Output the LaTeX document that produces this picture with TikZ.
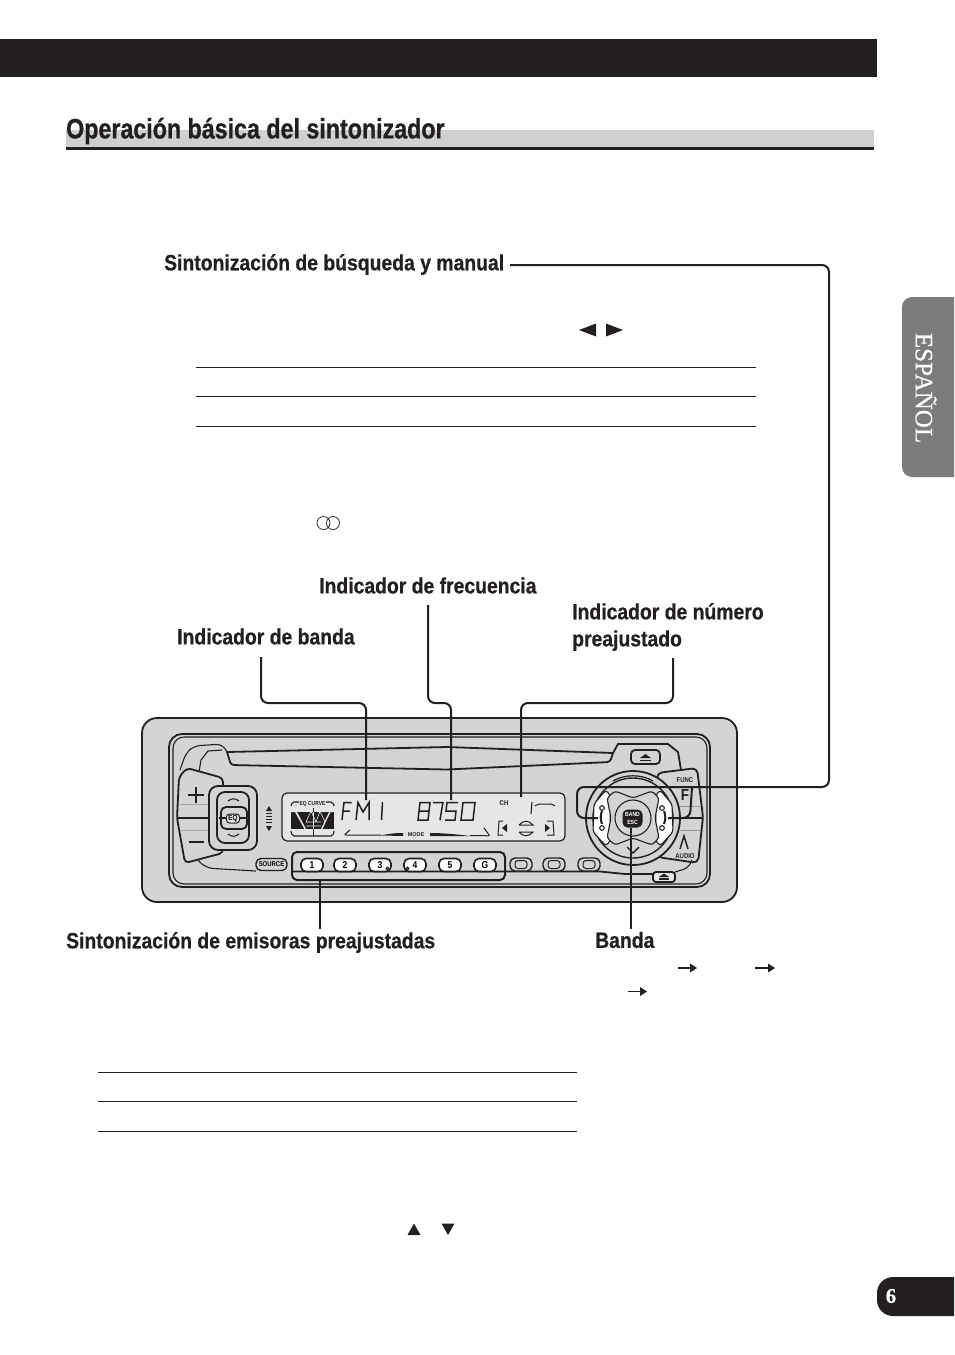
\documentclass[tikz,border=0pt]{standalone}
\usepackage{fontspec}
\setmainfont{Liberation Sans}
\newfontfamily\cond[FakeStretch=0.88,FakeBold=0.6]{Liberation Sans}
\newfontfamily\condt[FakeStretch=0.83,FakeBold=0.8]{Liberation Sans}
\newfontfamily\condn[FakeStretch=0.85]{Liberation Sans}
\newfontfamily\serifb[FakeBold=0.5]{Liberation Serif}
\definecolor{barblack}{HTML}{231F20}
\definecolor{band}{HTML}{D0D0D0}
\definecolor{tabgrey}{HTML}{7D7B7C}
\definecolor{panel}{HTML}{D4D4D4}
\definecolor{lcd}{HTML}{E6E6E6}
\tikzset{
  lbl/.style={inner sep=0pt,anchor=west,font=\cond\bfseries\fontsize{22}{27}\selectfont,text=barblack,align=left},
  rule/.style={draw=barblack,line width=0.9pt},
  conn/.style={draw=barblack,line width=2pt,rounded corners=7pt},
  dev/.style={draw=barblack,line width=1.1pt},
  devthick/.style={draw=barblack,line width=1.8pt},
  seg/.style={draw=barblack,line width=1.5pt},
  key/.style={draw=barblack,line width=1.6pt,fill=white,rounded corners=5pt,minimum width=22pt,minimum height=13pt,inner sep=0pt,font=\condn\bfseries\fontsize{10}{10}\selectfont},
  blank/.style={draw=barblack,line width=1.4pt,fill=panel,rounded corners=5pt,minimum width=22pt,minimum height=13pt,inner sep=0pt},
  tiny/.style={inner sep=0pt,font=\condn\bfseries\fontsize{7}{8}\selectfont,text=barblack,align=center}
}
\begin{document}
\begin{tikzpicture}[x=1pt,y=-1pt]
\useasboundingbox (0,0) rectangle (954,1355);
\fill[white] (0,0) rectangle (954,1355);
% header
\fill[barblack] (0,39) rectangle (877,77);
\fill[band] (66,130) rectangle (874,147);
\fill[barblack] (66,147) rectangle (874,149.5);
\node[lbl,font=\condt\bfseries\fontsize{28}{30}\selectfont] (title) at (66,131) {Operación básica del sintonizador};
% side tab
\begin{scope}
\clip (890,280) rectangle (954,490);
\fill[tabgrey,rounded corners=10pt] (975,297) -- (902,297) -- (902,477) -- (975,477) -- cycle;
\end{scope}
\node[inner sep=0pt,rotate=-90,text=white,font=\serifb\fontsize{25}{25}\selectfont] (tab) at (926,388) {ESPAÑOL};
% page number
\begin{scope}
\clip (870,1270) rectangle (954,1320);
\fill[barblack,rounded corners=16pt] (985,1277) -- (877,1277) -- (877,1316) -- (985,1316) -- cycle;
\end{scope}
\node[inner sep=0pt,text=white,font=\serifb\bfseries\fontsize{21}{21}\selectfont] (pageno) at (891,1296) {6};
% rules
\foreach \y in {367,396.5,426.5}{\draw[rule] (196,\y) -- (756,\y);}
\foreach \y in {1072.5,1101.5,1131.5}{\draw[rule] (98,\y) -- (577,\y);}
% symbols
\fill[barblack] (579,330) -- (596,323.5) -- (596,336.5) -- cycle;
\fill[barblack] (623,330) -- (606,323.5) -- (606,336.5) -- cycle;
\draw[barblack,line width=0.7pt] (323.5,523) circle (6.5) (333,523) circle (6.5);
\fill[barblack] (414,1223.5) -- (407.5,1235) -- (420.5,1235) -- cycle;
\fill[barblack] (448,1235) -- (441.5,1223.5) -- (454.5,1223.5) -- cycle;
\foreach \a/\b in {678/697,755/775}{
  \draw[barblack,line width=1.6pt] (\a,968) -- (\b-6,968);
  \fill[barblack] (\b,968) -- (\b-7,963.5) -- (\b-7,972.5) -- cycle;}
\draw[barblack,line width=1.6pt] (628,991.5) -- (641,991.5);
\fill[barblack] (647,991.5) -- (640,987) -- (640,996) -- cycle;
% labels
\node[lbl] (seek) at (164,264.5) {Sintonización de búsqueda y manual};
\node[lbl] (freq) at (319,585.5) {Indicador de frecuencia};
\node[lbl] (nump) at (572,627) {Indicador de número\\preajustado};
\node[lbl] (bandl) at (177,636.5) {Indicador de banda};
\node[lbl] (pres) at (66,942.5) {Sintonización de emisoras preajustadas};
\node[lbl] (banda) at (595,940) {Banda};
% radio body
\draw[devthick,fill=panel,rounded corners=15pt] (142,718) rectangle (737,902);
\draw[devthick,rounded corners=13pt] (169,734) rectangle (710,887);
\draw[dev,rounded corners=11pt] (173,737) -- (707,737) -- (707,884) -- (173,884) -- cycle;
% slot
\draw[dev,rounded corners=6pt] (180,770) -- (186,753) -- (194,746) -- (222,744) -- (227,752);
\draw[dev] (199,772) -- (201,760) -- (208,751) -- (222,750);
\draw[devthick] (227,752) -- (447,747) -- (613,753) -- (618,744) -- (668,744) -- (678,752) -- (681,770);
\draw[devthick,rounded corners=3pt] (227,752) -- (231,765) -- (447,769.5) -- (610,762) -- (613,753);
\draw[devthick,fill=panel,rounded corners=4pt] (631,750) rectangle (660,764);
\fill[barblack] (645.5,754) -- (651,758) -- (640,758) -- cycle;
\fill[barblack] (640,759.5) rectangle (651,761);
% volume
\draw[devthick,fill=panel,rounded corners=4pt] (223,790) -- (223,778) -- (187,768) -- (179,777) -- (177,818) -- (185,863) -- (223,853) -- (223,840);
\draw[black!35,line width=1pt] (180,804) -- (211,804) (181,830) -- (211,830);
\draw[barblack,line width=2pt] (177,818) -- (210,818);
\draw[barblack,line width=1.8pt] (188,795) -- (204,795) (196,787) -- (196,803);
\draw[barblack,line width=1.8pt] (189,842) -- (204,842);
\draw[devthick,fill=panel,rounded corners=9pt] (209,786) rectangle (257,850);
\draw[devthick,rounded corners=8pt] (217,792) rectangle (249,843);
\draw[devthick,rounded corners=5pt] (221,807) rectangle (247,829);
\node[draw=barblack,line width=1pt,fill=lcd,rounded corners=3pt,minimum width=13pt,minimum height=9pt,inner sep=0pt,font=\condn\bfseries\fontsize{7.5}{7.5}\selectfont] (eq) at (233,818.5) {EQ};
\draw[barblack,line width=2pt] (219,818) -- (226,818) (240,818) -- (247,818);
\draw[dev] (228,801) .. controls (232,798) and (235,798) .. (239,801);
\draw[dev] (228,834) .. controls (232,837) and (235,837) .. (239,834);
\fill[barblack] (269,806) -- (266,811) -- (272,811) -- cycle (269,831) -- (266,826) -- (272,826) -- cycle;
\foreach \y in {813.5,816.5,819.5,822.5}{\draw[barblack,line width=0.8pt] (266,\y) -- (272,\y);}
% bottom strip
\draw[dev,rounded corners=8pt] (198,860) -- (205,868) -- (256,871);
\draw[devthick] (292,871.5) -- (505,871.5) -- (600,871.5) -- (625,874) -- (653,874);
\node[draw=barblack,line width=1.4pt,fill=panel,rounded corners=5pt,minimum width=31pt,minimum height=12pt,inner sep=0pt,font=\condn\bfseries\fontsize{7}{7}\selectfont] (source) at (271.5,864.5) {SOURCE};
% display
\node[draw=barblack,line width=1.2pt,fill=lcd,rounded corners=5pt,minimum width=283pt,minimum height=48pt,inner sep=0pt] (display) at (423.5,817) {};
\draw[dev,rounded corners=2pt] (291,806) -- (292,802) -- (333,802) -- (334,806);
\draw[dev,rounded corners=2pt] (291,831) -- (292,836) -- (333,836) -- (334,831);
\fill[barblack] (290.5,812) rectangle (333.5,829);
\fill[lcd] (296,810) -- (306,829) -- (321,829) -- (330,810) -- (333.5,810) -- (333.5,812) -- (330.5,812) -- (322,830) -- (305,830) -- (295,812) -- (290.5,812) -- (290.5,810) -- cycle;
\draw[lcd,line width=0.6pt] (306,822) -- (321,822) (306,826) -- (321,826) (311,811) -- (306,822) (311,811) -- (316,822) (320,811) -- (316,822) (320,811) -- (325,822);
\draw[lcd,line width=0.8pt] (313,812) -- (313,829);
\draw[barblack,line width=0.8pt] (313,829) -- (313,836) (313,807) -- (313,812);
\node[tiny,fill=lcd,inner sep=1pt,font=\condn\bfseries\fontsize{5.8}{6}\selectfont] (eqc) at (312.5,804) {EQ CURVE};
% seven segment
\draw[seg] (351.5,802.5) -- (344,802.5) -- (342,820) (343,811) -- (350,811);
\draw[seg] (356,820) -- (358,802.5) -- (363,812) -- (369,802.5) -- (369,820);
\draw[seg] (382.5,802) -- (381.5,820);
\draw[seg] (420,802.5) -- (430,802.5) -- (428,820) -- (418,820) -- cycle (419,811) -- (429,811);
\draw[seg] (433,802.5) -- (443,802.5) -- (442,808) -- (440,820);
\draw[seg] (458,802.5) -- (447,802.5) -- (446,811) -- (456,811) -- (455,820) -- (445,820);
\draw[seg] (463,802.5) -- (475,802.5) -- (473,820) -- (461,820) -- cycle;
\draw[barblack,line width=1pt,rounded corners=2pt] (350,830) -- (344,835) -- (353,835) -- (381,835);
\fill[barblack] (381,835.5) .. controls (390,833.5) and (395,833) .. (403,833) -- (403,836) -- cycle;
\node[inner sep=0pt,font=\bfseries\fontsize{5.5}{6}\selectfont,text=barblack] (mode) at (416,835) {MODE};
\fill[barblack] (430,833) .. controls (440,833) and (455,834) .. (470,836) -- (430,836) -- cycle;
\draw[barblack,line width=1pt,rounded corners=2pt] (470,835.5) -- (483,835.5) -- (490,836) -- (484,828);
\node[tiny] (ch) at (504,803) {CH};
\draw[seg,line width=1.1pt] (532,802) -- (531,814);
\draw[barblack,line width=1pt,rounded corners=2pt] (535,806) -- (537,804) -- (553,804) -- (555,806);
\draw[barblack,line width=1pt] (503,821) -- (499,821) -- (498,835) -- (503,835);
\draw[barblack,line width=1pt] (547,821) -- (553,821) -- (554,835) -- (547,835);
\fill[barblack] (502,828) -- (507,824) -- (507,832) -- cycle;
\fill[barblack] (550,828) -- (545,824) -- (545,832) -- cycle;
\draw[barblack,line width=1pt] (519,825) .. controls (523,820) and (529,820) .. (533,825) -- (519,825);
\draw[barblack,line width=1pt] (519,832) .. controls (523,837) and (529,837) .. (533,832) -- (519,832);
% right panel
\draw[devthick,fill=panel,rounded corners=5pt] (657,773) -- (697,768) -- (703,817) -- (698,863) -- (657,857) -- cycle;
\draw[barblack,line width=2pt] (675,818) -- (703,818);
\draw[black!40,line width=0.8pt] (680,806) -- (700,806) (680,830) -- (700,830);
\node[tiny] (func) at (685,780) {FUNC};
\node[inner sep=0pt,font=\condn\bfseries\fontsize{16}{16}\selectfont,text=barblack] (fkey) at (685,795) {F};
\draw[barblack,line width=1.5pt] (680,849) -- (684,836) -- (688,849);
\node[tiny] (audio) at (685,856) {AUDIO};
\draw[devthick,fill=lcd,rounded corners=3pt] (653,872) rectangle (675,882);
\fill[barblack] (664,873.5) -- (669,877) -- (659,877) -- cycle;
\fill[barblack] (659,878) rectangle (669,880);
\draw[dev,rounded corners=5pt] (675,872) -- (688,868) -- (692,860);
% wheel
\node[circle,draw=barblack,line width=1.8pt,fill=panel,minimum size=94pt,inner sep=0pt] (wheel) at (633,818) {};
\draw[barblack,line width=1.4pt] (633,818) circle (40);
\fill[white,draw=barblack,line width=1.1pt,rounded corners=3pt] (606,790) -- (594,804) -- (593,832) -- (606,846) -- (612,838) -- (610,818) -- (612,798) -- cycle;
\fill[white,draw=barblack,line width=1.1pt,rounded corners=3pt] (660,790) -- (672,804) -- (673,832) -- (660,846) -- (654,838) -- (656,818) -- (654,798) -- cycle;
\draw[dev,fill=panel,rounded corners=3pt] (607,798) -- (615,791) -- (633,798) -- (652,791) -- (659,798) -- (655,818) -- (659,838) -- (652,845) -- (633,838) -- (615,845) -- (607,838) -- (611,818) -- cycle;
\draw[dev] (633,818) circle (18);
\draw[barblack,line width=2pt,rounded corners=4pt] (602,811) -- (600,817) -- (602,824);
\draw[barblack,line width=2pt,rounded corners=4pt] (664,811) -- (666,817) -- (664,824);
\draw[dev,fill=white] (602,808) circle (2.3) (602,828) circle (2.3) (662,808) circle (2.3) (662,828) circle (2.3);
\draw[barblack,line width=1.4pt] (627,847) -- (633,853) -- (639,847);
\draw[barblack,line width=1.2pt] (613,781) .. controls (625,774) and (641,774) .. (653,781);
\node[fill=barblack,rounded corners=5pt,minimum width=20pt,minimum height=18pt,inner sep=0pt,text=white,align=center,font=\condn\bfseries\fontsize{6}{7.5}\selectfont] (bandbtn) at (632.5,818.5) {BAND\\ESC};
% keys
\draw[draw=barblack,line width=2pt,rounded corners=5pt] (292,852) rectangle (505,880);
\foreach \x/\t/\n in {312/1/ka,345/2/kb,380/3/kc,415/4/kd,450/5/ke,485/G/kf}{
  \node[key] (\n) at (\x,865) {\t};}
\draw[dev,fill=white] (387.5,868.5) circle (1.3) (407.5,868.5) circle (1.3);
\foreach \x/\n in {521/kg,554/kh,589/ki}{
  \node[blank] (\n) at (\x,864.5) {};
  \draw[barblack,line width=1pt,rounded corners=3pt] (\x-6,860.5) rectangle (\x+6,868.5);}
% connector anchors
\coordinate (c1) at (261,657);
\coordinate (d1) at (366,800);
\coordinate (c2) at (428,605);
\coordinate (d2) at (451,800);
\coordinate (c3) at (673,658);
\coordinate (d3) at (521,797);
\coordinate (s1) at (510,265);
\coordinate (kl) at (598,818);
\coordinate (kr) at (668,818);
\coordinate (j) at (692,787);
\coordinate (p1) at (320,880);
\coordinate (p2) at (320,929);
\coordinate (b2) at (631,929);
\draw[conn] (c1) |- (d1 |- 0,703) -- (d1);
\draw[conn] (c2) |- (d2 |- 0,703) -- (d2);
\draw[conn] (c3) |- (d3 |- 0,703) -- (d3);
\draw[conn] (s1) -- (829,265) -- (829,787) -- (577,787) -- (577,818) -- (kl);
\draw[conn] (j) -- (690,818) -- (kr);
\draw[conn] (p1) -- (p2);
\draw[conn] (631,827.5) -- (b2);
\end{tikzpicture}
\end{document}
